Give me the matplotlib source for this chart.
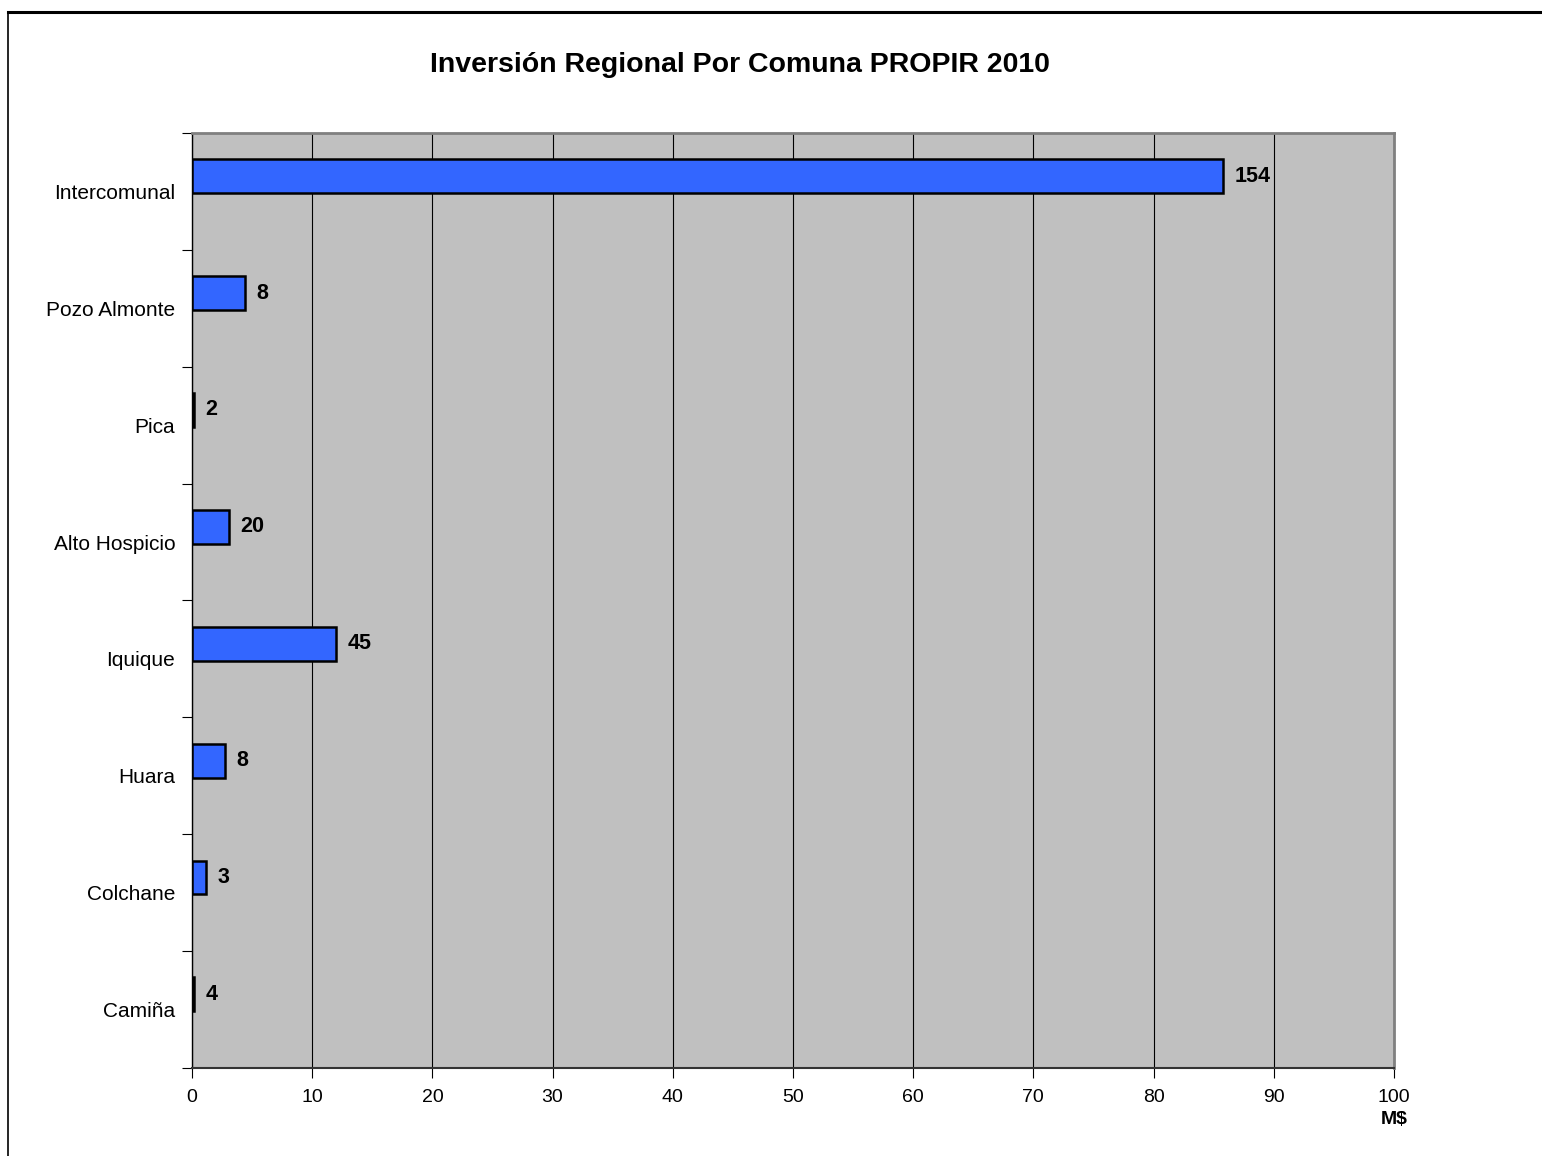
import matplotlib.pyplot as plt
from matplotlib.lines import Line2D

plt.rcParams['font.family'] = ['Liberation Sans', 'DejaVu Sans']

# data (top to bottom)
comunas = ["Intercomunal", "Pozo Almonte", "Pica", "Alto Hospicio",
           "Iquique", "Huara", "Colchane", "Camiña"]
largo_barra = [85.8, 4.4, 0.2, 3.1, 12.0, 2.75, 1.2, 0.2]
etiquetas = ["154", "8", "2", "20", "45", "8", "3", "4"]
xticks = [0, 10, 20, 30, 40, 50, 60, 70, 80, 90, 100]

fig = plt.figure(figsize=(15.42, 11.56), dpi=100)
ax = fig.add_axes([0.1245, 0.0761, 0.7795, 0.8089])
ax.set_facecolor("#C0C0C0")

# page frame (left and top edge)
fig.add_artist(Line2D([8/1542, 8/1542], [0, 1 - 12/1156], color="black", lw=1.2, transform=fig.transFigure))
fig.add_artist(Line2D([8/1542, 1], [1 - 12/1156, 1 - 12/1156], color="black", lw=2.2, transform=fig.transFigure))

pos = [i - 0.13 for i in range(len(comunas))]
ax.barh(pos, largo_barra, height=0.29, color="#3366FF", edgecolor="black", linewidth=1.8, zorder=3)

for p, v, t in zip(pos, largo_barra, etiquetas):
    ax.annotate(t, (v, p), xytext=(8, 0), textcoords="offset points",
                ha="left", va="center", fontsize=15.5, fontweight="bold", zorder=4)

ax.set_xlim(0, 100)
ax.set_ylim(len(comunas) - 0.5, -0.5)
ax.set_xticks(xticks)
ax.set_xticklabels([str(x) for x in xticks], fontsize=14)
ax.xaxis.grid(True, color="black", linewidth=0.8, zorder=1)
ax.set_axisbelow(True)

ax.set_yticks(range(len(comunas)))
ax.set_yticklabels(comunas, fontsize=15)
ax.tick_params(axis="y", length=0, pad=12)
ax.set_yticks([i - 0.5 for i in range(len(comunas) + 1)], minor=True)
ax.tick_params(axis="y", which="minor", length=7, width=0.8)
ax.tick_params(axis="x", length=7, width=0.8, pad=8)

for s in ["top", "right"]:
    ax.spines[s].set_color("#808080")
    ax.spines[s].set_linewidth(2)
ax.spines["left"].set_linewidth(1)
ax.spines["bottom"].set_linewidth(1.5)
ax.spines["bottom"].set_color("#333333")

ax.text(1.0, -0.055, "M$", transform=ax.transAxes, ha="center", va="center",
        fontsize=14, fontweight="bold")

fig.text(740/1542, 1 - 65/1156, "Inversión Regional Por Comuna PROPIR 2010",
         ha="center", va="center", fontsize=20.5, fontweight="bold")

fig.savefig("out.png", dpi=100)
